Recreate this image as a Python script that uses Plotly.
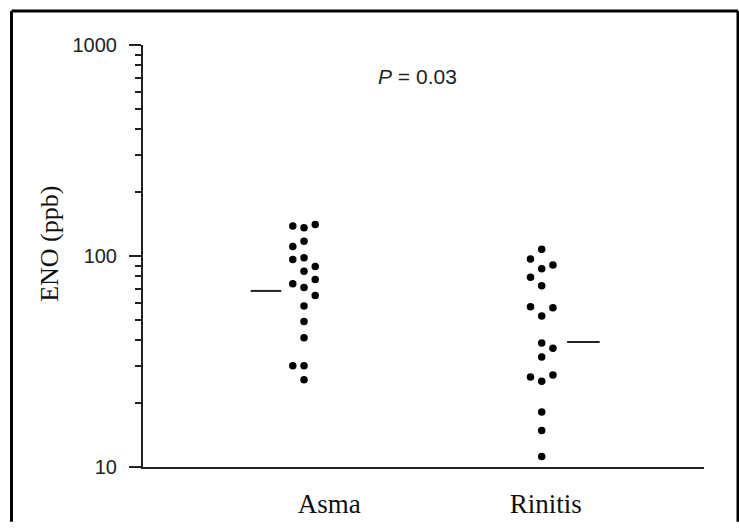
import plotly.graph_objects as go

# ---- data ----
groups = ["Asma", "Rinitis"]
asma_values = [138.6, 136.2, 141, 110.9, 117.4, 96.3, 98.1, 84.6, 89.2, 77.4,
               73.9, 70.9, 64.9, 58.0, 48.9, 41.0, 30.2, 30.2, 25.9]
asma_cols = [-1, 0, 1, -1, 0, -1, 0, 0, 1, 1, -1, 0, 1, 0, 0, 0, -1, 0, 0]
rinitis_values = [107.5, 96.7, 87.0, 90.7, 79.4, 72.2, 57.4, 56.8, 52.0, 38.7,
                  36.5, 33.2, 26.7, 25.5, 27.3, 18.2, 14.9, 11.2]
rinitis_cols = [0, -1, 0, 1, -1, 0, -1, 1, 0, 0, 1, 0, -1, 0, 1, 0, 0, 0]
medians = [68.3, 39.1]
y_tick_vals = [10, 100, 1000]
y_tick_text = ["10", "100", "1000"]
p_text = "<i>P</i> = 0.03"

# ---- layout helpers (positions, not data) ----
centers = [28.7, 71.07]
col_step = 2.0
median_x = [(19.2, 24.65), (75.6, 81.4)]
label_x = [33.2, 71.8]

fig = go.Figure()
for vals, cols, c in [(asma_values, asma_cols, centers[0]),
                      (rinitis_values, rinitis_cols, centers[1])]:
    fig.add_trace(go.Scatter(
        x=[c + k * col_step for k in cols], y=vals, mode="markers",
        marker=dict(color="black", size=7.5, line=dict(width=0)),
        showlegend=False, hoverinfo="y"))

for (x0, x1), m in zip(median_x, medians):
    fig.add_trace(go.Scatter(x=[x0, x1], y=[m, m], mode="lines",
                             line=dict(color="#222", width=2),
                             showlegend=False, hoverinfo="skip"))

minor_vals = [k * 10 ** e for e in (1, 2) for k in range(2, 10)]

fig.update_layout(
    width=739, height=531,
    margin=dict(l=143, r=35, t=45, b=51),
    paper_bgcolor="white", plot_bgcolor="white",
    xaxis=dict(range=[0, 100], showgrid=False, zeroline=False,
               showline=True, linecolor="#222", linewidth=2,
               tickmode="array", tickvals=label_x, ticktext=groups,
               ticks="", ticklabelstandoff=12,
               tickfont=dict(family="Liberation Serif, Times New Roman, serif",
                             size=27, color="#111")),
    yaxis=dict(type="log", range=[1, 3], showgrid=False, zeroline=False,
               showline=True, linecolor="#222", linewidth=2,
               tickmode="array", tickvals=y_tick_vals, ticktext=y_tick_text,
               ticks="outside", ticklen=12, tickwidth=2, tickcolor="#222",
               ticklabelstandoff=8,
               tickfont=dict(family="Liberation Sans, Arial, sans-serif",
                             size=20, color="#222"),
               minor=dict(tickvals=minor_vals, ticks="outside", ticklen=6,
                          tickwidth=2, tickcolor="#222", showgrid=False)),
    annotations=[
        dict(text=p_text, xref="paper", yref="paper", x=0.489, y=0.926,
             showarrow=False, xanchor="center", yanchor="middle",
             font=dict(family="Liberation Sans, Arial, sans-serif", size=21, color="#222")),
        dict(text="ENO (ppb)", xref="paper", yref="paper", x=-0.1658, y=0.5287,
             textangle=-90, showarrow=False, xanchor="center", yanchor="middle",
             font=dict(family="Liberation Serif, Times New Roman, serif", size=26, color="#111")),
    ],
    shapes=[
        dict(type="line", xref="paper", yref="paper", x0=-0.2344, x1=-0.2344,
             y0=1.0805, y1=-0.13, line=dict(color="black", width=3)),
        dict(type="line", xref="paper", yref="paper", x0=-0.2344, x1=1.0606,
             y0=1.0805, y1=1.0805, line=dict(color="black", width=3)),
        dict(type="line", xref="paper", yref="paper", x0=1.0606, x1=1.0606,
             y0=1.0805, y1=-0.13, line=dict(color="black", width=3)),
    ],
)

fig.write_html("out.html")
